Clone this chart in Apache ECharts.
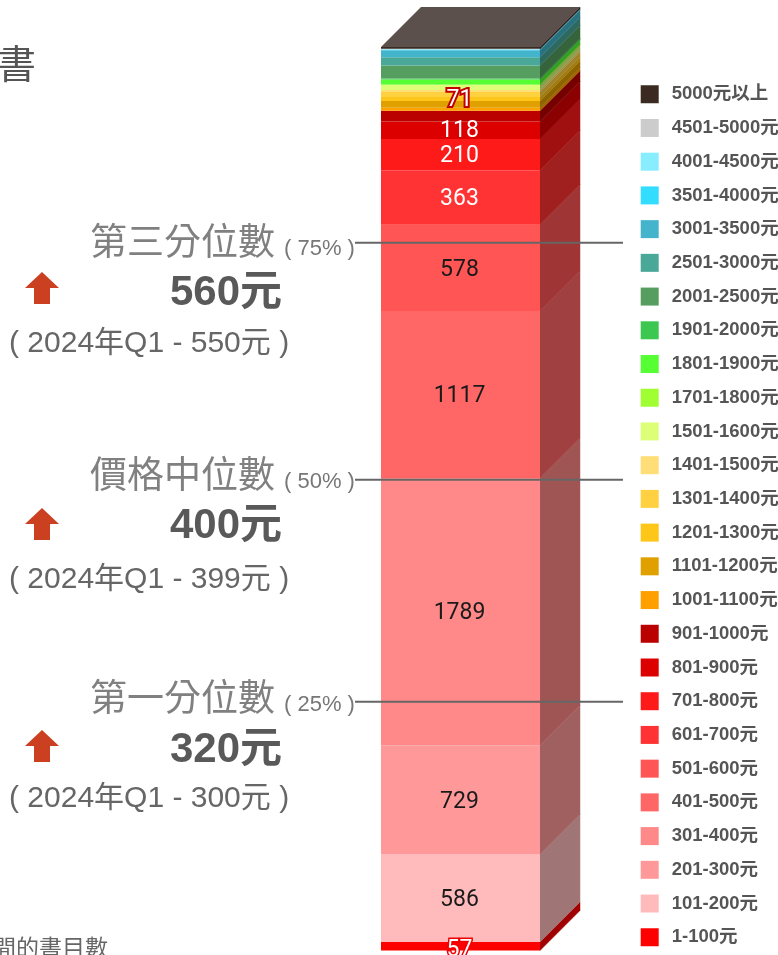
<!DOCTYPE html>
<html><head><meta charset="utf-8">
<style>html,body{margin:0;padding:0;background:#fff;overflow:hidden}#c{width:778px;height:955px}</style>
<script src="https://cdn.jsdelivr.net/npm/echarts@6/dist/echarts.min.js"></script>
</head><body><div id="c"></div>
<script>
const priceBands = ['1-100元','101-200元','201-300元','301-400元','401-500元','501-600元','601-700元','701-800元','801-900元','901-1000元','1001-1100元','1101-1200元','1201-1300元','1301-1400元','1401-1500元','1501-1600元','1701-1800元','1801-1900元','1901-2000元','2001-2500元','2501-3000元','3001-3500元','3501-4000元','4001-4500元','4501-5000元','5000元以上'];
const bookCounts = [57,586,729,1789,1117,578,363,210,118,71,20,46,27,33,14,33,3,33,8,86,55,48,4,2,3,12];
const bandColors = ['#ff0000','#ffbbbb','#ff9999','#ff8888','#ff6666','#ff5555','#ff3333','#ff1a1a','#dd0000','#bb0000','#ff9f00','#e0a000','#ffc61a','#ffd040','#ffdd77','#ddff77','#a0ff33','#55ff33','#3cc850','#559e60','#4aa898','#44b4cc','#33ddff','#88eeff','#cccccc','#3a2a22'];
const labelled = {0:'outR',1:'d',2:'d',3:'d',4:'d',5:'d',6:'w',7:'w',8:'w',9:'out'};
const quartileValues = [1665,3150,4735];
const quartileNames = [['第一分位數','( 25% )','320元','( 2024年Q1 - 300元 )'],['價格中位數','( 50% )','400元','( 2024年Q1 - 399元 )'],['第三分位數','( 75% )','560元','( 2024年Q1 - 550元 )']];
const quartileTextY = [[701,750,799],[478,526,580],[245,293,344]];
const quartileArrowTop = [730,508,272];

const DEPTH = 40;
const FONT = '"Liberation Sans","Noto Sans CJK TC",sans-serif';
const total = bookCounts.reduce((a,b)=>a+b,0);
function shade(hex,f){const n=parseInt(hex.slice(1),16);return `rgb(${(n>>16&255)*f|0},${(n>>8&255)*f|0},${(n&255)*f|0})`;}
let acc=0;
const sideData = bookCounts.map((v,i)=>{const r=[0,acc,acc+v,i];acc+=v;return r;});

const barSeries = priceBands.map((name,i)=>{
  const kind = labelled[i];
  let label = {show:false};
  if(kind){
    label = {show:true,position:'inside',fontFamily:'Roboto,sans-serif',fontSize:23,color:kind==='w'?'#fff':'#1a1a1a',offset:[-1,i>=7?1:2]};
    if(kind==='outR'){Object.assign(label,{color:'#fff',textBorderColor:'#f00000',textBorderWidth:3,offset:[-1,4]});}
    if(kind==='out'){Object.assign(label,{color:'#fff',textBorderColor:'#c00000',textBorderWidth:4,offset:[-1,-16]});}
  }
  return {name,type:'bar',stack:'b',barWidth:'100%',data:[bookCounts[i]],itemStyle:{color:bandColors[i]},label,z:3};
});

const sideSeries = {type:'custom',silent:true,clip:false,z:2,encode:{x:0,y:[1,2]},data:sideData,
  renderItem(p,api){
    const a=api.coord([0,api.value(1)]),b=api.coord([0,api.value(2)]);
    const w=api.size([1,0])[0], x=a[0]+w/2, idx=api.value(3);
    const kids=[{type:'polygon',shape:{points:[[x,a[1]],[x+DEPTH,a[1]-DEPTH],[x+DEPTH,b[1]-DEPTH],[x,b[1]]]},
      style:{fill:shade(bandColors[idx],0.63),stroke:shade(bandColors[idx],0.66),lineWidth:0.5}}];
    if(idx===bandColors.length-1){
      kids.push({type:'polygon',shape:{points:[[x-w,b[1]],[x,b[1]],[x+DEPTH,b[1]-DEPTH],[x-w+DEPTH,b[1]-DEPTH]]},style:{fill:'#5c504c'}});
    }
    return {type:'group',children:kids};
  }};

const lineSeries = {type:'custom',silent:true,clip:false,z:6,encode:{x:0,y:1},data:quartileValues.map(v=>[0,v]),
  renderItem(p,api){
    const c=api.coord([0,api.value(1)]),w=api.size([1,0])[0];
    return {type:'line',shape:{x1:c[0]-w/2-26,y1:c[1],x2:c[0]+w/2+83,y2:c[1]},style:{stroke:'#666',lineWidth:2}};
  }};

const graphic=[
  {type:'text',x:-3,y:67,style:{text:'書',font:`39px ${FONT}`,fill:'#555',textVerticalAlign:'middle'}},
  {type:'text',x:108,y:950,style:{text:'間的書目數',font:`23px ${FONT}`,fill:'#666',textAlign:'right',textVerticalAlign:'middle'}}
];
quartileNames.forEach((q,i)=>{
  const y=quartileTextY[i];
  graphic.push({type:'text',x:90,y:y[0],style:{text:q[0],font:`37px ${FONT}`,fill:'#808080',textVerticalAlign:'middle'}});
  graphic.push({type:'text',x:284,y:y[0]+4,style:{text:q[1],font:`22px ${FONT}`,fill:'#777',textVerticalAlign:'middle'}});
  graphic.push({type:'text',x:226,y:y[1],style:{text:q[2],font:`bold 42px ${FONT}`,fill:'#595959',textAlign:'center',textVerticalAlign:'middle'}});
  graphic.push({type:'text',x:9,y:y[2],style:{text:q[3],font:`30px ${FONT}`,fill:'#666',textVerticalAlign:'middle'}});
  const t=quartileArrowTop[i];
  graphic.push({type:'polygon',shape:{points:[[42,t],[59,t+16],[50,t+16],[50,t+32],[34,t+32],[34,t+16],[25,t+16]]},style:{fill:'#cc4022'}});
});

const chart=echarts.init(document.getElementById('c'),null,{renderer:'canvas'});
chart.setOption({
  animation:false,backgroundColor:'#fff',
  grid:{left:381,top:47,width:159,height:903.5,containLabel:false},
  xAxis:{type:'category',data:[''],show:false},
  yAxis:{type:'value',min:0,max:total,show:false},
  legend:{orient:'vertical',left:635.7,top:80,height:880,itemWidth:18,itemHeight:18,itemGap:15.22,selectedMode:false,icon:'rect',
    data:priceBands.slice().reverse(),
    textStyle:{fontFamily:FONT,fontSize:18.5,lineHeight:18,fontWeight:'bold',color:'#555',padding:[0,0,0,8]}},
  graphic:graphic,
  series:[sideSeries,...barSeries,lineSeries]
});
</script></body></html>
